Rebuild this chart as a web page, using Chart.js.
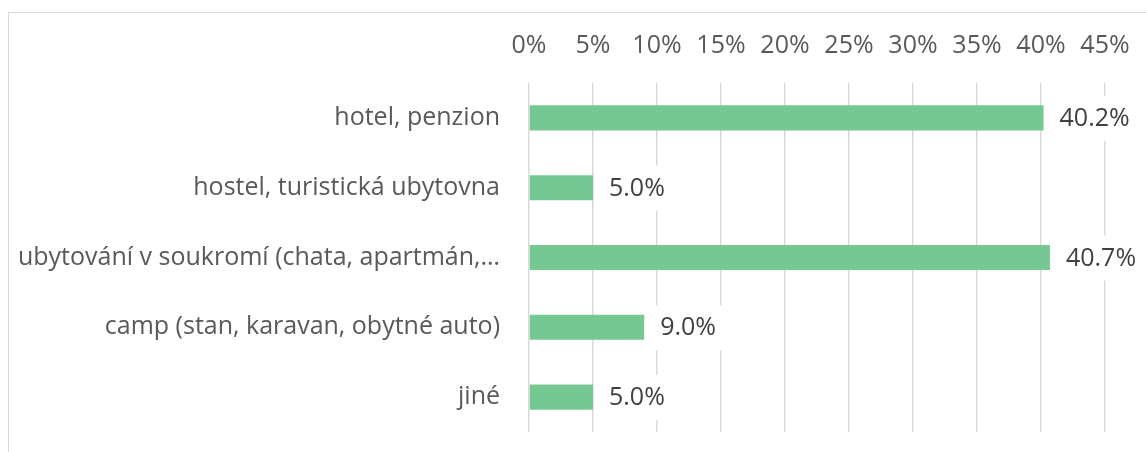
<!DOCTYPE html>
<html>
<head>
<meta charset="utf-8">
<script src="https://cdn.jsdelivr.net/npm/chart.js"></script>
<style>
  html, body { margin: 0; padding: 0; background: #fff; overflow: hidden; }
  #frame { position: absolute; left: 8px; top: 12px; width: 1200px; height: 500px; border: 1px solid #d9d9d9; }
  #wrap { position: absolute; left: 0; top: 0; width: 1146px; height: 452px; }
</style>
</head>
<body>
<div id="frame"></div>
<div id="wrap"><canvas id="accChart"></canvas></div>
<script>
// Chart data
const categories = [
    'hotel, penzion',
    'hostel, turistická ubytovna',
    'ubytování v soukromí (chata, apartmán,…',
    'camp (stan, karavan, obytné auto)',
    'jiné'
];
const shares = [40.2, 5.0, 40.7, 9.0, 5.0];
const xTicks = [0, 5, 10, 15, 20, 25, 30, 35, 40, 45];

const FONT = "'Open Sans', 'Noto Sans', sans-serif";

// value labels with white box, drawn after the bars
const valueLabels = {
    id: 'valueLabels',
    afterDatasetsDraw(chart) {
        const ctx = chart.ctx;
        const meta = chart.getDatasetMeta(0);
        ctx.save();
        ctx.font = '25px ' + FONT;
        ctx.textBaseline = 'middle';
        ctx.textAlign = 'left';
        meta.data.forEach((bar, i) => {
            const txt = shares[i].toFixed(1) + '%';
            const w = ctx.measureText(txt).width;
            const x = bar.x + 16;
            ctx.fillStyle = '#ffffff';
            ctx.fillRect(x - 7, bar.y - 22, w + 14, 45);
            ctx.fillStyle = '#404040';
            ctx.fillText(txt, x, bar.y + 1);
        });
        ctx.restore();
    }
};

new Chart(document.getElementById('accChart').getContext('2d'), {
    type: 'bar',
    data: {
        labels: categories,
        datasets: [{
            data: shares,
            backgroundColor: '#76c893',
            borderWidth: 0,
            barPercentage: 0.36,
            categoryPercentage: 1
        }]
    },
    options: {
        indexAxis: 'y',
        responsive: true,
        maintainAspectRatio: false,
        animation: false,
        layout: {
            padding: { top: 0, right: 41, bottom: 20, left: 0 }
        },
        plugins: {
            legend: { display: false },
            tooltip: { enabled: false }
        },
        scales: {
            x: {
                position: 'top',
                min: 0,
                max: 45,
                afterBuildTicks: (scale) => {
                    scale.ticks = xTicks.map(v => ({ value: v }));
                },
                afterFit: (scale) => {
                    scale.height = 83;
                    scale.paddingLeft = 0;
                    scale.paddingRight = 0;
                },
                grid: {
                    color: '#d9d9d9',
                    lineWidth: 1.5,
                    drawTicks: false
                },
                border: { display: false },
                ticks: {
                    color: '#595959',
                    font: { family: FONT, size: 25 },
                    padding: 22,
                    maxRotation: 0,
                    autoSkip: false,
                    callback: (v) => v + '%'
                }
            },
            y: {
                afterFit: (scale) => {
                    scale.width = 529;
                    scale.paddingTop = 0;
                    scale.paddingBottom = 0;
                },
                grid: { display: false },
                border: { display: false },
                ticks: {
                    color: '#595959',
                    font: { family: FONT, size: 25 },
                    padding: 21,
                    autoSkip: false
                }
            }
        }
    },
    plugins: [valueLabels]
});
</script>
</body>
</html>
